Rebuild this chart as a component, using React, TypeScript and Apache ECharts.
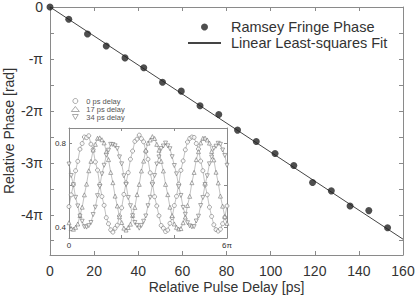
import React, { useEffect, useRef } from "react";
import * as echarts from "echarts";

// Main plot: Ramsey fringe phase vs relative pulse delay
const delaysPs = [0, 8.5, 17, 25.5, 34, 42.5, 51, 59.5, 68, 76.5, 85, 93.5, 102, 110.5, 119, 127.5, 136, 144.5, 153];
// phase in units of pi (rad / pi)
const phaseOverPi = [0, -0.237, -0.519, -0.75, -0.98, -1.17, -1.45, -1.62, -1.9, -2.07, -2.37, -2.59, -2.82, -3.05, -3.38, -3.54, -3.83, -3.92, -4.25];
// linear least-squares fit endpoints [delay ps, phase/pi]
const fitDelays = [0, 160];
const fitPhaseOverPi = [0, -4.47];

const xTicks = [0, 20, 40, 60, 80, 100, 120, 140, 160];
const yTickValues = [0, -0.5, -1, -1.5, -2, -2.5, -3, -3.5, -4, -4.5];
const yLabelValues = [0, -1, -2, -3, -4];

// Inset: fringes vs phase (x in units of pi, sampled every pi/12 from 0 to 6 pi)
const insetStepOverPi = 1 / 12;
const fringe0ps = [
  0.5, 0.556, 0.604, 0.671, 0.716, 0.774, 0.801, 0.832, 0.829, 0.838, 0.798, 0.772, 0.713, 0.674, 0.605, 0.548, 0.506, 0.447, 0.418, 0.389, 0.378, 0.396, 0.411, 0.455,
  0.494, 0.558, 0.613, 0.662, 0.726, 0.765, 0.811, 0.822, 0.841, 0.824, 0.809, 0.763, 0.726, 0.661, 0.614, 0.547, 0.503, 0.456, 0.41, 0.397, 0.381, 0.388, 0.42, 0.447,
  0.505, 0.549, 0.607, 0.673, 0.718, 0.771, 0.808, 0.825, 0.832, 0.83, 0.801, 0.775, 0.717, 0.671, 0.603, 0.556, 0.497, 0.453, 0.413, 0.39, 0.383, 0.392, 0.418, 0.449,
  0.503,
];
const fringe17ps = [
  0.423, 0.395, 0.392, 0.401, 0.417, 0.457, 0.497, 0.556, 0.607, 0.671, 0.716, 0.77, 0.797, 0.826, 0.828, 0.819, 0.804, 0.762, 0.724, 0.663, 0.614, 0.55, 0.503, 0.451,
  0.424, 0.397, 0.388, 0.4, 0.416, 0.458, 0.496, 0.557, 0.606, 0.67, 0.717, 0.769, 0.803, 0.818, 0.834, 0.825, 0.797, 0.769, 0.716, 0.67, 0.606, 0.557, 0.497, 0.457,
  0.417, 0.401, 0.393, 0.395, 0.423, 0.45, 0.505, 0.549, 0.614, 0.663, 0.724, 0.762, 0.804, 0.826, 0.827, 0.818, 0.803, 0.763, 0.723, 0.664, 0.613, 0.55, 0.502, 0.452,
  0.42,
];
const fringe34ps = [
  0.703, 0.648, 0.604, 0.544, 0.503, 0.455, 0.43, 0.404, 0.402, 0.409, 0.424, 0.462, 0.497, 0.552, 0.596, 0.656, 0.697, 0.745, 0.769, 0.797, 0.796, 0.79, 0.777, 0.737,
  0.704, 0.647, 0.605, 0.543, 0.504, 0.456, 0.424, 0.41, 0.397, 0.41, 0.43, 0.455, 0.504, 0.544, 0.604, 0.648, 0.703, 0.737, 0.777, 0.789, 0.803, 0.79, 0.776, 0.738,
  0.696, 0.656, 0.595, 0.553, 0.496, 0.463, 0.423, 0.408, 0.403, 0.404, 0.431, 0.454, 0.505, 0.543, 0.605, 0.647, 0.704, 0.736, 0.778, 0.788, 0.802, 0.797, 0.77, 0.744,
  0.697,
];
const insetNames = ["0 ps delay", "17 ps delay", "34 ps delay"];
const insetYTicks = [0.4, 0.6, 0.8];
const insetYLabels = [0.4, 0.8];

const FONT = "'Liberation Sans', Arial, Helvetica, sans-serif";
const AXIS = "#8a8a8a";
const TEXT = "#333";

function piLabel(v: number): string {
  const r = Math.round(v);
  if (r === 0) return "0";
  if (r === -1) return "-π";
  return `${r}π`;
}

export default function App() {
  const ref = useRef<HTMLDivElement>(null);
  useEffect(() => {
    if (!ref.current) return;
    const chart = echarts.init(ref.current, null, { renderer: "svg" });
    const mainPts = delaysPs.map((d, i) => [d, phaseOverPi[i]]);
    const fitPts = fitDelays.map((d, i) => [d, fitPhaseOverPi[i]]);
    const toPts = (arr: number[]) => arr.map((v, i) => [i * insetStepOverPi, v]);
    const fringes = [fringe0ps, fringe17ps, fringe34ps];
    const symbols = ["circle", "triangle", "path://M0,0L10,0L5,8.66Z"];
    const hollow = { color: "#fff", borderColor: "#666", borderWidth: 0.7 };

    const mainXBase = {
      type: "value",
      gridIndex: 0,
      min: 0,
      max: 160,
      interval: 20,
      axisLine: { onZero: false, lineStyle: { color: AXIS, width: 1 } },
      axisTick: { inside: true, length: 4, lineStyle: { color: AXIS } },
      splitLine: { show: false },
    };
    const mainYBase = {
      type: "value",
      gridIndex: 0,
      min: -15 / Math.PI,
      max: 0,
      axisLine: { onZero: false, lineStyle: { color: AXIS, width: 1 } },
      axisTick: { inside: true, length: 4, customValues: yTickValues, lineStyle: { color: AXIS } },
      splitLine: { show: false },
    };
    const insetXBase = {
      type: "value",
      gridIndex: 1,
      min: 0,
      max: 6,
      interval: 2,
      axisLine: { onZero: false, lineStyle: { color: AXIS, width: 1 } },
      axisTick: { inside: true, length: 3, lineStyle: { color: AXIS } },
      splitLine: { show: false },
    };
    const insetYBase = {
      type: "value",
      gridIndex: 1,
      min: 0.35,
      max: 0.875,
      axisLine: { onZero: false, lineStyle: { color: AXIS, width: 1 } },
      axisTick: { inside: true, length: 3, customValues: insetYTicks, lineStyle: { color: AXIS } },
      splitLine: { show: false },
    };

    const option: any = {
      animation: false,
      backgroundColor: "#fff",
      textStyle: { fontFamily: FONT },
      grid: [
        { left: 50, top: 7, right: 12, bottom: 46, containLabel: false, outerBoundsMode: "none" },
        { left: 69, top: 128, width: 158, height: 110, containLabel: false, outerBoundsMode: "none" },
      ],
      xAxis: [
        {
          ...mainXBase,
          position: "bottom",
          axisLabel: { fontSize: 14, color: TEXT, margin: 9, customValues: xTicks },
          name: "Relative Pulse Delay [ps]",
          nameLocation: "middle",
          nameGap: 25,
          nameMoveOverlap: false,
          nameTextStyle: { fontSize: 14, color: TEXT },
        },
        { ...mainXBase, position: "top", axisLabel: { show: false } },
        {
          ...insetXBase,
          position: "bottom",
          axisLabel: {
            fontSize: 8,
            color: TEXT,
            margin: 3,
            formatter: (v: number) => (v === 0 ? "0" : v === 6 ? "6π" : ""),
          },
        },
        { ...insetXBase, position: "top", axisLabel: { show: false } },
      ],
      yAxis: [
        {
          ...mainYBase,
          position: "left",
          axisLabel: { fontSize: 14, color: TEXT, margin: 7, customValues: yLabelValues, formatter: piLabel },
          name: "Relative Phase [rad]",
          nameLocation: "middle",
          nameGap: 34,
          nameMoveOverlap: false,
          nameTextStyle: { fontSize: 14, color: TEXT },
        },
        { ...mainYBase, position: "right", axisLabel: { show: false } },
        {
          ...insetYBase,
          position: "left",
          axisLabel: {
            fontSize: 8,
            color: TEXT,
            margin: 3,
            customValues: insetYLabels,
            formatter: (v: number) => v.toFixed(1),
          },
        },
        { ...insetYBase, position: "right", axisLabel: { show: false } },
      ],
      legend: [
        {
          data: [
            { name: "Ramsey Fringe Phase" },
            { name: "Linear Least-squares Fit", itemStyle: { opacity: 0 } },
          ],
          orient: "vertical",
          left: 187,
          top: 19,
          padding: 0,
          itemWidth: 33,
          itemHeight: 7,
          itemGap: 0,
          selectedMode: false,
          textStyle: { fontSize: 14.5, color: TEXT, lineHeight: 16, padding: [0, 0, 0, 5] },
        },
        {
          data: insetNames.map((n, i) => ({ name: n, icon: symbols[i], itemStyle: { ...hollow } })),
          orient: "vertical",
          left: 71,
          top: 97,
          padding: 0,
          itemWidth: 8,
          itemHeight: 5,
          itemGap: 0,
          selectedMode: false,
          textStyle: { fontSize: 7.5, color: "#555", lineHeight: 7.5, padding: [0, 0, 0, 2] },
        },
      ],
      series: [
        {
          type: "line",
          name: "Linear Least-squares Fit",
          xAxisIndex: 0,
          yAxisIndex: 0,
          data: fitPts,
          symbol: "none",
          lineStyle: { color: "#444", width: 1 },
          itemStyle: { color: "#444" },
          silent: true,
          z: 2,
        },
        {
          type: "scatter",
          name: "Ramsey Fringe Phase",
          xAxisIndex: 0,
          yAxisIndex: 0,
          data: mainPts,
          symbol: "circle",
          symbolSize: 7,
          itemStyle: { color: "#222" },
          z: 3,
        },
        ...fringes.map((arr, i) => ({
          type: "line",
          name: insetNames[i] + " curve",
          xAxisIndex: 2,
          yAxisIndex: 2,
          data: toPts(arr),
          symbol: "none",
          lineStyle: { color: "#999", width: 0.6 },
          silent: true,
          z: 2,
        })),
        ...fringes.map((arr, i) => ({
          type: "scatter",
          name: insetNames[i],
          xAxisIndex: 2,
          yAxisIndex: 2,
          data: toPts(arr),
          symbol: symbols[i],
          symbolSize: 4,
          itemStyle: { ...hollow },
          silent: true,
          z: 3,
        })),
      ],
    };
    chart.setOption(option);
    return () => chart.dispose();
  }, []);
  return (
    <div
      ref={ref}
      style={{ position: "absolute", left: 0, top: 0, width: 415, height: 301 }}
    />
  );
}
